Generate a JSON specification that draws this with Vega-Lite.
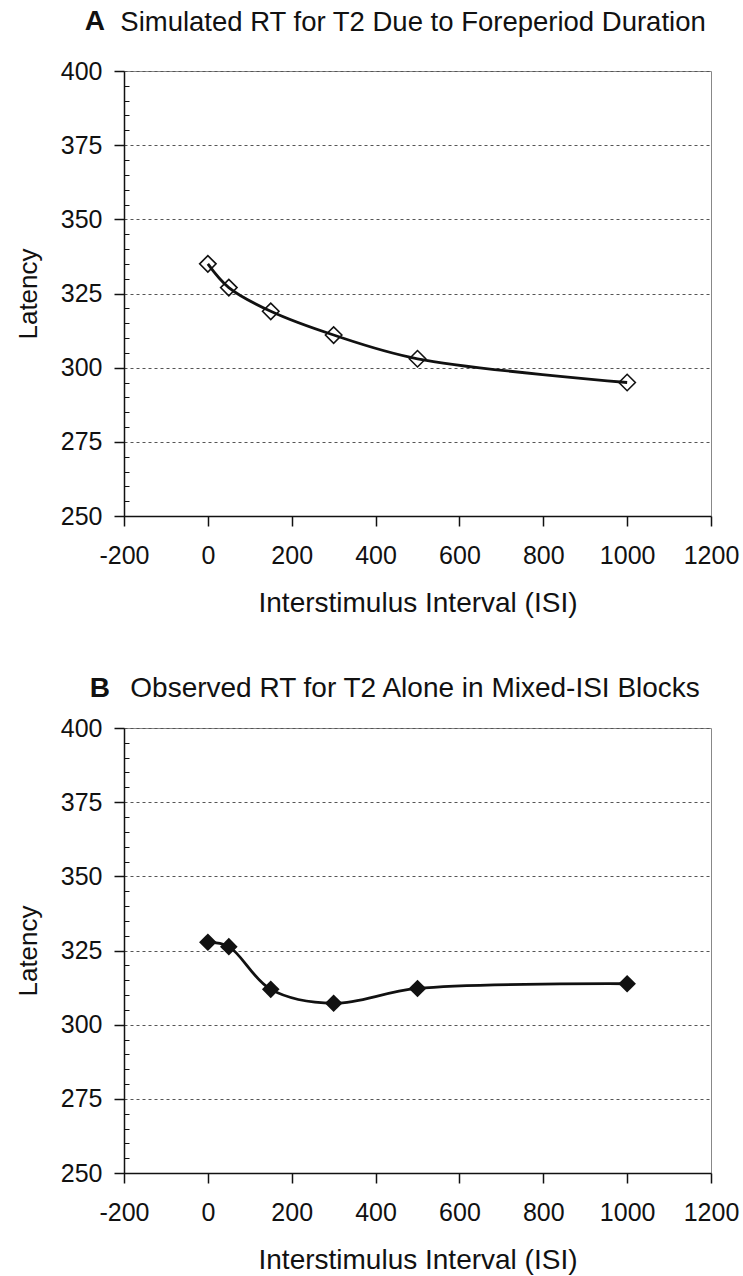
{
  "$schema": "https://vega.github.io/schema/vega-lite/v6.json",
  "background": "white",
  "padding": {"left": 14, "top": 8, "right": 0, "bottom": 0},
  "spacing": 56,
  "config": {
    "font": "Liberation Sans",
    "view": {"stroke": "#888", "strokeWidth": 1},
    "axis": {
      "labelFont": "Liberation Sans", "labelFontSize": 25, "labelColor": "#111", "labelFlush": false,
      "titleFont": "Liberation Sans", "titleFontSize": 27, "titleFontWeight": "normal", "titleColor": "#111",
      "domainColor": "#111", "domainWidth": 1.5, "tickColor": "#111", "tickWidth": 1.5
    },
    "title": {"font": "Liberation Sans", "fontSize": 27.5, "fontWeight": "normal", "anchor": "start", "color": "#111"}
  },
  "datasets": {
    "simulated": [
      {"isi": 0, "latency": 335},
      {"isi": 50, "latency": 327},
      {"isi": 150, "latency": 319},
      {"isi": 300, "latency": 311},
      {"isi": 500, "latency": 303},
      {"isi": 1000, "latency": 295}
    ],
    "observed": [
      {"isi": 0, "latency": 327.8},
      {"isi": 50, "latency": 326.3},
      {"isi": 150, "latency": 311.9},
      {"isi": 300, "latency": 307.2},
      {"isi": 500, "latency": 312.2},
      {"isi": 1000, "latency": 313.8}
    ]
  },
  "vconcat": [
    {
      "title": {"text": "A", "fontWeight": "bold", "fontSize": 28, "dx": 70, "offset": -27.5},
      "vconcat": [
        {
          "width": 587, "height": 445,
          "title": {"text": "Simulated RT for T2 Due to Foreperiod Duration", "dx": 105, "offset": 22.5},
          "data": {"name": "simulated"},
          "layer": [
            {
              "mark": {"type": "line", "interpolate": "catmull-rom", "color": "#111", "strokeWidth": 2.8},
              "encoding": {
                "x": {"field": "isi", "type": "quantitative", "scale": {"domain": [-200, 1200], "nice": false},
                      "axis": {"values": [-200, 0, 200, 400, 600, 800, 1000, 1200], "labelExpr": "'' + datum.value", "grid": false, "tickSize": 10, "labelPadding": 17, "title": "Interstimulus Interval (ISI)", "titleFontSize": 28, "titlePadding": 21}},
                "y": {"field": "latency", "type": "quantitative", "scale": {"domain": [250, 400], "nice": false, "zero": false},
                      "axis": {"values": [250, 275, 300, 325, 350, 375, 400], "grid": true, "gridDash": [3, 3], "gridColor": "#555", "gridWidth": 1, "tickSize": 10, "labelPadding": 12, "title": "Latency", "titleFontSize": 26, "titlePadding": 19}}
              }
            },
            {
              "mark": {"type": "point", "shape": "diamond", "filled": false, "color": "#111", "strokeWidth": 1.6, "size": 270, "opacity": 1},
              "encoding": {
                "x": {"field": "isi", "type": "quantitative",
                      "axis": {"values": [-200, 0, 200, 400, 600, 800, 1000, 1200], "labelExpr": "'' + datum.value", "grid": false, "tickSize": 10, "labelPadding": 17, "title": "Interstimulus Interval (ISI)", "titleFontSize": 28, "titlePadding": 21}},
                "y": {"field": "latency", "type": "quantitative",
                      "axis": {"orient": "left", "values": [255, 260, 265, 270, 280, 285, 290, 295, 305, 310, 315, 320, 330, 335, 340, 345, 355, 360, 365, 370, 380, 385, 390, 395], "labels": false, "domain": false, "grid": false, "tickSize": -5, "tickWidth": 1, "title": null}}
              }
            }
          ],
          "resolve": {"axis": {"y": "independent"}}
        }
      ]
    },
    {
      "title": {"text": "B", "fontWeight": "bold", "fontSize": 28, "dx": 75, "offset": -28},
      "vconcat": [
        {
          "width": 587, "height": 445,
          "title": {"text": "Observed RT for T2 Alone in Mixed-ISI Blocks", "fontSize": 28, "dx": 115, "offset": 13},
          "data": {"name": "observed"},
          "layer": [
            {
              "mark": {"type": "line", "interpolate": "catmull-rom", "color": "#111", "strokeWidth": 2.8},
              "encoding": {
                "x": {"field": "isi", "type": "quantitative", "scale": {"domain": [-200, 1200], "nice": false},
                      "axis": {"values": [-200, 0, 200, 400, 600, 800, 1000, 1200], "labelExpr": "'' + datum.value", "grid": false, "tickSize": 10, "labelPadding": 17, "title": "Interstimulus Interval (ISI)", "titleFontSize": 28, "titlePadding": 21}},
                "y": {"field": "latency", "type": "quantitative", "scale": {"domain": [250, 400], "nice": false, "zero": false},
                      "axis": {"values": [250, 275, 300, 325, 350, 375, 400], "grid": true, "gridDash": [3, 3], "gridColor": "#555", "gridWidth": 1, "tickSize": 10, "labelPadding": 12, "title": "Latency", "titleFontSize": 26, "titlePadding": 19}}
              }
            },
            {
              "mark": {"type": "point", "shape": "diamond", "filled": true, "color": "#111", "size": 310, "opacity": 1},
              "encoding": {
                "x": {"field": "isi", "type": "quantitative",
                      "axis": {"values": [-200, 0, 200, 400, 600, 800, 1000, 1200], "labelExpr": "'' + datum.value", "grid": false, "tickSize": 10, "labelPadding": 17, "title": "Interstimulus Interval (ISI)", "titleFontSize": 28, "titlePadding": 21}},
                "y": {"field": "latency", "type": "quantitative",
                      "axis": {"orient": "left", "values": [255, 260, 265, 270, 280, 285, 290, 295, 305, 310, 315, 320, 330, 335, 340, 345, 355, 360, 365, 370, 380, 385, 390, 395], "labels": false, "domain": false, "grid": false, "tickSize": -5, "tickWidth": 1, "title": null}}
              }
            }
          ],
          "resolve": {"axis": {"y": "independent"}}
        }
      ]
    }
  ]
}
